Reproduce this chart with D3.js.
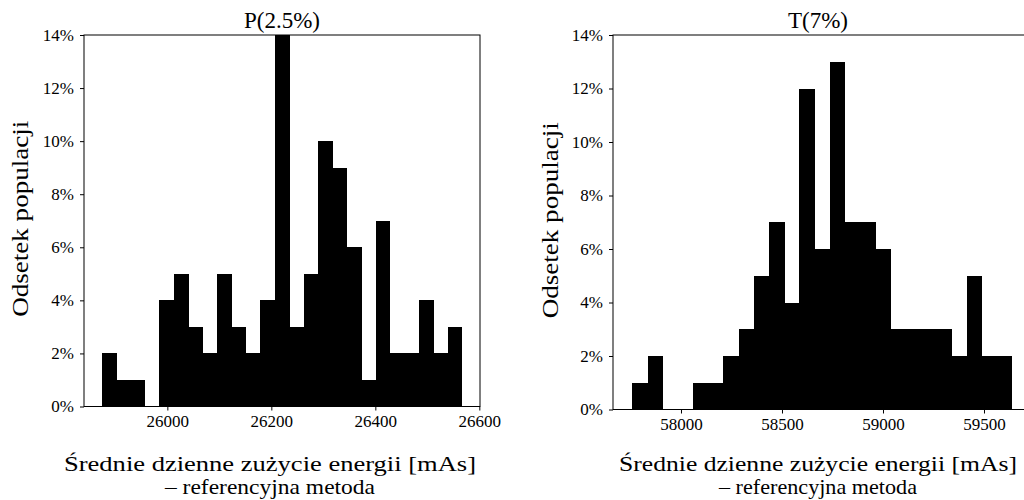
<!DOCTYPE html>
<html>
<head>
<meta charset="utf-8">
<script src="https://cdn.jsdelivr.net/npm/d3@7"></script>
<style>
  html, body { margin: 0; padding: 0; background: #fff; }
  svg { display: block; }
  text { font-family: "Liberation Serif", "Times New Roman", serif; fill: #000; }
</style>
</head>
<body>
<svg id="chart" width="1024" height="500"></svg>
<script>
// ---- data ----
const titles = ["P(2.5%)", "T(7%)"];
const yTickValues = [0, 2, 4, 6, 8, 10, 12, 14];
const xLabelLines = ["Średnie dzienne zużycie energii [mAs]", "– referencyjna metoda"];
const yLabel = "Odsetek populacji";

// left panel: histogram P(2.5%)
const leftXTicks = [26000, 26200, 26400, 26600];
const leftBinStart = 25874;
const leftBinWidth = 27.72;
const leftPercent = [2, 1, 1, 0, 4, 5, 3, 2, 5, 3, 2, 4, 14, 3, 5, 10, 9, 6, 1, 7, 2, 2, 4, 2, 3];

// right panel: histogram T(7%)
const rightXTicks = [58000, 58500, 59000, 59500];
const rightBinStart = 57759;
const rightBinWidth = 75.2;
const rightPercent = [1, 2, 0, 0, 1, 1, 2, 3, 5, 7, 4, 12, 6, 13, 7, 7, 6, 3, 3, 3, 3, 2, 5, 2, 2];

const svg = d3.select("#chart");

function fitText(sel, w) {
  if (w) sel.attr("textLength", w).attr("lengthAdjust", "spacingAndGlyphs");
  return sel;
}

function panel(cfg) {
  const { x0, x1, y0, y1, xDomain, ticks, binStart, binWidth, values, title, titleX, labelX, yLabelX, labelW1, labelW2 } = cfg;
  const x = d3.scaleLinear().domain(xDomain).range([x0, x1]);
  const y = d3.scaleLinear().domain([0, 14]).range([y1, y0]);
  const g = svg.append("g");

  const bins = values.map((v, i) => ({ lo: binStart + i * binWidth, hi: binStart + (i + 1) * binWidth, v }));
  g.selectAll("rect.bar").data(bins.filter(d => d.v > 0)).join("rect")
    .attr("class", "bar")
    .attr("x", d => x(d.lo))
    .attr("width", d => x(d.hi) - x(d.lo) + 0.3)
    .attr("y", d => y(d.v))
    .attr("height", d => y(0) - y(d.v))
    .attr("fill", "#000")
    .attr("shape-rendering", "crispEdges");

  // frame
  g.append("rect")
    .attr("x", x0).attr("y", y0)
    .attr("width", x1 - x0).attr("height", y1 - y0)
    .attr("fill", "none").attr("stroke", "#000").attr("stroke-width", 1);

  // x axis
  const xAxis = d3.axisBottom(x).tickValues(ticks).tickFormat(d3.format("d")).tickSize(4).tickPadding(4);
  const gx = g.append("g").attr("transform", `translate(0,${y1})`).call(xAxis);
  gx.select(".domain").remove();
  gx.selectAll("line").attr("stroke", "#000").attr("stroke-width", 1);
  gx.selectAll("text").attr("font-size", 17).attr("fill", "#000");

  // y axis
  const yAxis = d3.axisLeft(y).tickValues(yTickValues).tickFormat(d => d + "%").tickSize(4).tickPadding(6);
  const gy = g.append("g").attr("transform", `translate(${x0},0)`).call(yAxis);
  gy.select(".domain").remove();
  gy.selectAll("line").attr("stroke", "#000").attr("stroke-width", 1);
  gy.selectAll("text").attr("font-size", 17).attr("fill", "#000");

  // title
  g.append("text").attr("x", titleX).attr("y", 28).attr("text-anchor", "middle")
    .attr("font-size", 23).text(title);

  // x label
  fitText(g.append("text").attr("x", labelX).attr("y", 471).attr("text-anchor", "middle")
    .attr("font-size", 22).text(xLabelLines[0]), labelW1);
  fitText(g.append("text").attr("x", labelX).attr("y", 494).attr("text-anchor", "middle")
    .attr("font-size", 22).text(xLabelLines[1]), labelW2);

  // y label
  fitText(g.append("text")
    .attr("transform", `translate(${yLabelX},${(y0 + y1) / 2 - 2}) rotate(-90)`)
    .attr("text-anchor", "middle").attr("font-size", 23).text(yLabel), 196);
}

panel({
  x0: 84, x1: 480, y0: 35, y1: 406.5,
  xDomain: [25839.7, 26601.3], ticks: leftXTicks,
  binStart: leftBinStart, binWidth: leftBinWidth, values: leftPercent,
  title: titles[0], titleX: 282, labelX: 270, yLabelX: 28, labelW1: 412, labelW2: 210
});

panel({
  x0: 613, x1: 1031, y0: 35, y1: 409.5,
  xDomain: [57663.4, 59732.7], ticks: rightXTicks,
  binStart: rightBinStart, binWidth: rightBinWidth, values: rightPercent,
  title: titles[1], titleX: 818, labelX: 818, yLabelX: 558, labelW1: 398, labelW2: 198
});
</script>
</body>
</html>
